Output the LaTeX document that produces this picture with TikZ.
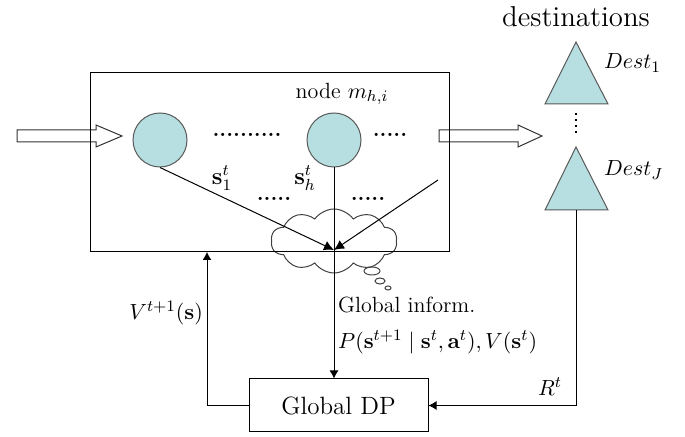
\documentclass[tikz,border=0pt]{standalone}
\usepackage{amsmath}
\usepackage{xcolor}
\usepackage{tikz}
\usetikzlibrary{arrows.meta,positioning,shapes.symbols}
\definecolor{siteteal}{RGB}{183,222,224}

\begin{document}
\begin{tikzpicture}[x=0.5pt,y=-0.5pt,>={Latex[length=4pt,width=4.5pt]},line width=0.5pt,
  every node/.style={font=\fontsize{11}{13}\selectfont},
  site/.style={circle,draw=black!65,fill=siteteal,minimum size=27pt,inner sep=0pt},
  dest/.style={draw=black!65,fill=siteteal,line width=0.5pt},
  hollow/.style={draw=black!80,fill=white,line width=0.5pt},
  dotrow/.style={inner sep=0pt,font=\fontsize{11}{13}\selectfont\bfseries}]
\useasboundingbox (0,0) rectangle (685,437);
\node[cloud,cloud puffs=10,cloud puff arc=110,aspect=2,draw=black!75,minimum width=63pt,minimum height=32pt] (thought) at (334,241) {};
\draw[black!75] (372,271) ellipse (8 and 4) (380,281) ellipse (5 and 3) (388,288) ellipse (3 and 2);
\draw[hollow] (17,130) -- (96,130) -- (96,125) -- (122,136) -- (96,147) -- (96,142) -- (17,142) -- cycle;
\draw[hollow] (439,130) -- (518,130) -- (518,125) -- (542,136) -- (518,147) -- (518,142) -- (439,142) -- cycle;
\node[draw,minimum width=179.5pt,minimum height=89.5pt,inner sep=0pt] (net) at (269.5,162.5) {};
\node[site] (c1) at (160,140) {};
\node[site] (c2) at (334,140) {};
\node at (342,94) {node $m_{h,i}$};
\node[dotrow] (d1) at (247,135) {..........};
\node[dotrow] (d2) at (390,135) {.....};
\node[dotrow] (d3) at (274,199) {.....};
\node[dotrow] (d4) at (368,199) {.....};
\node[font=\fontsize{12}{14}\selectfont,inner sep=0pt] (s1) at (222,178) {$\mathbf{s}_1^t$};
\node[font=\fontsize{12}{14}\selectfont,inner sep=0pt] (sh) at (305,178) {$\mathbf{s}_h^t$};
\coordinate (hub) at (334,250);
\coordinate (east) at (438,180);
\coordinate (vup) at (207,252);
\draw[dest] (576,42) -- (608,104) -- (545,104) -- cycle;
\draw[dest] (576,147) -- (608,210) -- (545,210) -- cycle;
\coordinate (destJ) at (576,210);
\draw[line width=1.2pt,dash pattern=on 1.2pt off 1.8pt] (576,113) -- (576,134);
\node[anchor=west] (dest1) at (597,63) {$Dest_1$};
\node[anchor=west] (destj) at (597,170) {$Dest_J$};
\node[font=\fontsize{14.4}{17}\selectfont] (dests) at (576,17) {destinations};
\node[draw,minimum width=89.5pt,minimum height=26.5pt,font=\fontsize{12.5}{15}\selectfont] (dp) at (338.5,405.5) {Global DP};
\node[anchor=west] (info) at (331,305) {Global inform.};
\node[anchor=west] (pinfo) at (331,342) {$P(\mathbf{s}^{t+1}\mid\mathbf{s}^t,\mathbf{a}^t),V(\mathbf{s}^t)$};
\node[anchor=east] (vlab) at (210,313) {$V^{t+1}(\mathbf{s})$};
\node (rlab) at (550,387) {$R^t$};
\draw[-{Latex[length=5pt,width=5pt]}] (c1.south) -- (hub);
\draw[-{Latex[length=5pt,width=5pt]}] (east) -- (hub);
\draw[->] (c2.south) -- (c2.south |- dp.north);
\draw[->] (dp.west) -| (vup);
\draw[->] (destJ) |- (dp.east);
\end{tikzpicture}
\end{document}
